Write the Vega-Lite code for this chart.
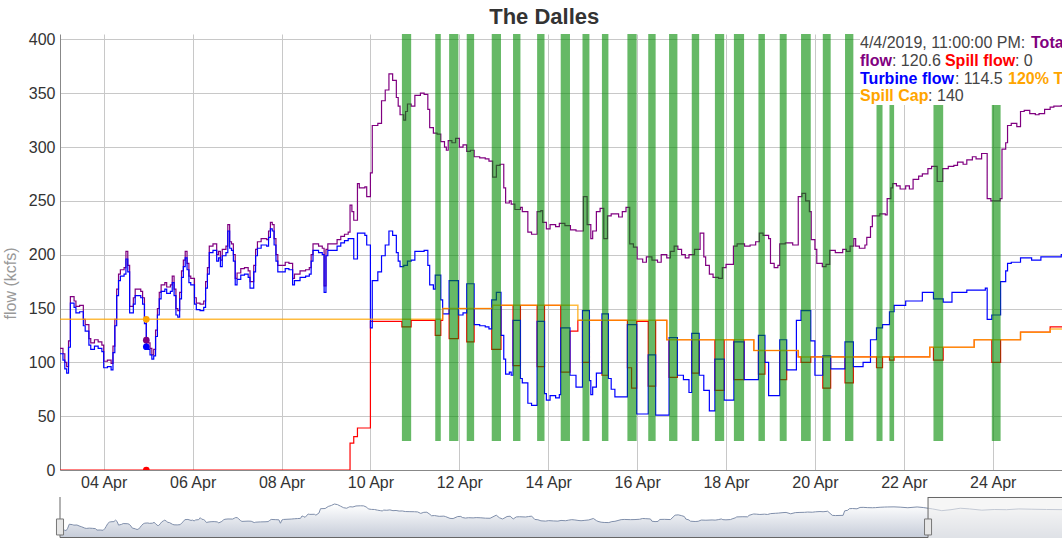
{
"$schema": "https://vega.github.io/schema/vega-lite/v6.json",
"background": "white",
"padding": {"left": 2, "top": 6, "right": 0, "bottom": 0},
"title": {"text": "The Dalles", "fontSize": 22, "fontWeight": "bold", "color": "#333", "anchor": "middle", "offset": 2, "dx": 12, "font": "Liberation Sans"},
"spacing": 6,
"config": {
  "font": "Liberation Sans",
  "view": {"stroke": null},
  "axis": {"labelFont": "Liberation Sans", "labelFontSize": 16, "labelColor": "#333", "gridColor": "#c8c8c8", "domainColor": "#888", "ticks": false}
},
"resolve": {"scale": {"x": "independent", "y": "independent"}},
"datasets": {
"tot": [
{"t":"2019-04-03T00:00","v":113},{"t":"2019-04-03T02:00","v":108},{"t":"2019-04-03T03:00","v":100},{"t":"2019-04-03T04:00","v":96},{"t":"2019-04-03T05:00","v":120},{"t":"2019-04-03T06:00","v":161},{"t":"2019-04-03T08:00","v":157},{"t":"2019-04-03T09:00","v":152},{"t":"2019-04-03T11:00","v":153},{"t":"2019-04-03T13:00","v":140},{"t":"2019-04-03T14:00","v":135},{"t":"2019-04-03T16:00","v":122},{"t":"2019-04-03T17:00","v":118},{"t":"2019-04-03T19:00","v":121},{"t":"2019-04-03T21:00","v":119},{"t":"2019-04-03T23:00","v":116},
{"t":"2019-04-04T00:00","v":101},{"t":"2019-04-04T02:00","v":102},{"t":"2019-04-04T04:00","v":99},{"t":"2019-04-04T05:00","v":115},{"t":"2019-04-04T06:00","v":140},{"t":"2019-04-04T07:00","v":168},{"t":"2019-04-04T08:00","v":182},{"t":"2019-04-04T09:00","v":186},{"t":"2019-04-04T11:00","v":188},{"t":"2019-04-04T12:00","v":203},{"t":"2019-04-04T13:00","v":190},{"t":"2019-04-04T14:00","v":152},{"t":"2019-04-04T16:00","v":160},{"t":"2019-04-04T17:00","v":168},{"t":"2019-04-04T20:00","v":166},{"t":"2019-04-04T21:00","v":160},{"t":"2019-04-04T22:00","v":142},{"t":"2019-04-04T23:00","v":120.6},
{"t":"2019-04-05T00:00","v":118},{"t":"2019-04-05T01:00","v":113},{"t":"2019-04-05T02:00","v":107},{"t":"2019-04-05T03:00","v":112},{"t":"2019-04-05T04:00","v":130},{"t":"2019-04-05T05:00","v":150},{"t":"2019-04-05T06:00","v":165},{"t":"2019-04-05T07:00","v":172},{"t":"2019-04-05T09:00","v":174},{"t":"2019-04-05T10:00","v":170},{"t":"2019-04-05T12:00","v":172},{"t":"2019-04-05T13:00","v":180},{"t":"2019-04-05T14:00","v":168},{"t":"2019-04-05T15:00","v":150},{"t":"2019-04-05T16:00","v":148},{"t":"2019-04-05T17:00","v":165},{"t":"2019-04-05T18:00","v":185},{"t":"2019-04-05T19:00","v":195},{"t":"2019-04-05T20:00","v":203},{"t":"2019-04-05T21:00","v":192},{"t":"2019-04-05T22:00","v":180},{"t":"2019-04-05T23:00","v":178},
{"t":"2019-04-06T01:00","v":160},{"t":"2019-04-06T02:00","v":155},{"t":"2019-04-06T04:00","v":154},{"t":"2019-04-06T06:00","v":157},{"t":"2019-04-06T07:00","v":175},{"t":"2019-04-06T08:00","v":188},{"t":"2019-04-06T09:00","v":208},{"t":"2019-04-06T11:00","v":210},{"t":"2019-04-06T13:00","v":200},{"t":"2019-04-06T14:00","v":203},{"t":"2019-04-06T15:00","v":195},{"t":"2019-04-06T16:00","v":205},{"t":"2019-04-06T18:00","v":208},{"t":"2019-04-06T19:00","v":228},{"t":"2019-04-06T20:00","v":212},{"t":"2019-04-06T21:00","v":210},{"t":"2019-04-06T22:00","v":200},{"t":"2019-04-06T23:00","v":178},
{"t":"2019-04-07T00:00","v":183},{"t":"2019-04-07T02:00","v":187},{"t":"2019-04-07T04:00","v":188},{"t":"2019-04-07T06:00","v":185},{"t":"2019-04-07T07:00","v":175},{"t":"2019-04-07T09:00","v":190},{"t":"2019-04-07T10:00","v":205},{"t":"2019-04-07T11:00","v":212},{"t":"2019-04-07T13:00","v":215},{"t":"2019-04-07T16:00","v":214},{"t":"2019-04-07T17:00","v":222},{"t":"2019-04-07T18:00","v":230},{"t":"2019-04-07T19:00","v":228},{"t":"2019-04-07T20:00","v":215},{"t":"2019-04-07T21:00","v":200},{"t":"2019-04-07T22:00","v":190},
{"t":"2019-04-08T02:00","v":193},{"t":"2019-04-08T04:00","v":192},{"t":"2019-04-08T06:00","v":178},{"t":"2019-04-08T07:00","v":182},{"t":"2019-04-08T10:00","v":185},{"t":"2019-04-08T13:00","v":186},{"t":"2019-04-08T15:00","v":188},{"t":"2019-04-08T16:00","v":200},{"t":"2019-04-08T17:00","v":210},{"t":"2019-04-08T20:00","v":208},{"t":"2019-04-08T22:00","v":206},{"t":"2019-04-08T23:00","v":171},
{"t":"2019-04-09T00:00","v":205},{"t":"2019-04-09T01:00","v":210},{"t":"2019-04-09T06:00","v":214},{"t":"2019-04-09T08:00","v":217},{"t":"2019-04-09T10:00","v":219},{"t":"2019-04-09T12:00","v":221},{"t":"2019-04-09T13:00","v":246},{"t":"2019-04-09T14:00","v":240},{"t":"2019-04-09T15:00","v":232},{"t":"2019-04-09T17:00","v":266},{"t":"2019-04-09T18:00","v":262},{"t":"2019-04-09T21:00","v":263},{"t":"2019-04-09T22:00","v":254},
{"t":"2019-04-10T00:00","v":276},{"t":"2019-04-10T01:00","v":320},{"t":"2019-04-10T04:00","v":322},{"t":"2019-04-10T06:00","v":343},{"t":"2019-04-10T08:00","v":353},{"t":"2019-04-10T10:00","v":368},{"t":"2019-04-10T12:00","v":362},{"t":"2019-04-10T14:00","v":346},{"t":"2019-04-10T15:00","v":338},{"t":"2019-04-10T16:00","v":330},{"t":"2019-04-10T18:00","v":325},{"t":"2019-04-10T19:00","v":333},{"t":"2019-04-10T20:00","v":340},{"t":"2019-04-10T22:00","v":338},
{"t":"2019-04-11T00:00","v":348},{"t":"2019-04-11T03:00","v":350},{"t":"2019-04-11T05:00","v":349},{"t":"2019-04-11T07:00","v":335},{"t":"2019-04-11T08:00","v":318},{"t":"2019-04-11T10:00","v":313},{"t":"2019-04-11T12:00","v":312},{"t":"2019-04-11T14:00","v":305},{"t":"2019-04-11T16:00","v":300},{"t":"2019-04-11T17:00","v":297},{"t":"2019-04-11T18:00","v":306},{"t":"2019-04-11T20:00","v":304},{"t":"2019-04-11T22:00","v":308},
{"t":"2019-04-12T00:00","v":300},{"t":"2019-04-12T02:00","v":302},{"t":"2019-04-12T04:00","v":296},{"t":"2019-04-12T06:00","v":297},{"t":"2019-04-12T08:00","v":291},{"t":"2019-04-12T11:00","v":290},{"t":"2019-04-12T14:00","v":289},{"t":"2019-04-12T16:00","v":287},{"t":"2019-04-12T18:00","v":272},{"t":"2019-04-12T20:00","v":283},{"t":"2019-04-12T22:00","v":284},
{"t":"2019-04-13T00:00","v":262},{"t":"2019-04-13T01:00","v":248},{"t":"2019-04-13T03:00","v":250},{"t":"2019-04-13T04:00","v":247},{"t":"2019-04-13T06:00","v":242},{"t":"2019-04-13T09:00","v":244},{"t":"2019-04-13T10:00","v":240},{"t":"2019-04-13T13:00","v":221},{"t":"2019-04-13T15:00","v":219},{"t":"2019-04-13T18:00","v":240},{"t":"2019-04-13T20:00","v":241},{"t":"2019-04-13T21:00","v":230},{"t":"2019-04-13T23:00","v":224},
{"t":"2019-04-14T01:00","v":228},{"t":"2019-04-14T04:00","v":226},{"t":"2019-04-14T06:00","v":229},{"t":"2019-04-14T09:00","v":227},{"t":"2019-04-14T12:00","v":223},{"t":"2019-04-14T15:00","v":222},{"t":"2019-04-14T19:00","v":254},{"t":"2019-04-14T21:00","v":228},{"t":"2019-04-14T23:00","v":215},
{"t":"2019-04-15T00:00","v":222},{"t":"2019-04-15T02:00","v":240},{"t":"2019-04-15T04:00","v":243},{"t":"2019-04-15T06:00","v":215},{"t":"2019-04-15T08:00","v":236},{"t":"2019-04-15T10:00","v":238},{"t":"2019-04-15T14:00","v":235},{"t":"2019-04-15T16:00","v":240},{"t":"2019-04-15T18:00","v":244},{"t":"2019-04-15T20:00","v":210},{"t":"2019-04-15T22:00","v":207},
{"t":"2019-04-16T00:00","v":196},{"t":"2019-04-16T03:00","v":193},{"t":"2019-04-16T05:00","v":198},{"t":"2019-04-16T08:00","v":195},{"t":"2019-04-16T11:00","v":193},{"t":"2019-04-16T13:00","v":200},{"t":"2019-04-16T16:00","v":197},{"t":"2019-04-16T18:00","v":203},{"t":"2019-04-16T20:00","v":208},{"t":"2019-04-16T22:00","v":205},
{"t":"2019-04-17T00:00","v":200},{"t":"2019-04-17T02:00","v":197},{"t":"2019-04-17T04:00","v":200},{"t":"2019-04-17T07:00","v":205},{"t":"2019-04-17T10:00","v":220},{"t":"2019-04-17T12:00","v":198},{"t":"2019-04-17T13:00","v":190},{"t":"2019-04-17T15:00","v":182},{"t":"2019-04-17T17:00","v":179},{"t":"2019-04-17T20:00","v":178},{"t":"2019-04-17T22:00","v":188},
{"t":"2019-04-18T00:00","v":191},{"t":"2019-04-18T04:00","v":208},{"t":"2019-04-18T06:00","v":210},{"t":"2019-04-18T10:00","v":208},{"t":"2019-04-18T13:00","v":209},{"t":"2019-04-18T16:00","v":212},{"t":"2019-04-18T18:00","v":220},{"t":"2019-04-18T20:00","v":218},{"t":"2019-04-18T23:00","v":215},
{"t":"2019-04-19T00:00","v":192},{"t":"2019-04-19T02:00","v":188},{"t":"2019-04-19T04:00","v":190},{"t":"2019-04-19T05:00","v":210},{"t":"2019-04-19T08:00","v":211},{"t":"2019-04-19T12:00","v":209},{"t":"2019-04-19T15:00","v":254},{"t":"2019-04-19T17:00","v":257},{"t":"2019-04-19T19:00","v":250},{"t":"2019-04-19T21:00","v":240},{"t":"2019-04-19T22:00","v":214},
{"t":"2019-04-20T00:00","v":205},{"t":"2019-04-20T01:00","v":192},{"t":"2019-04-20T04:00","v":189},{"t":"2019-04-20T06:00","v":191},{"t":"2019-04-20T08:00","v":204},{"t":"2019-04-20T11:00","v":202},{"t":"2019-04-20T15:00","v":205},{"t":"2019-04-20T17:00","v":203},{"t":"2019-04-20T19:00","v":208},{"t":"2019-04-20T21:00","v":215},{"t":"2019-04-20T22:00","v":208},
{"t":"2019-04-21T00:00","v":206},{"t":"2019-04-21T03:00","v":209},{"t":"2019-04-21T04:00","v":216},{"t":"2019-04-21T06:00","v":226},{"t":"2019-04-21T07:00","v":236},{"t":"2019-04-21T11:00","v":238},{"t":"2019-04-21T14:00","v":237},{"t":"2019-04-21T15:00","v":252},{"t":"2019-04-21T17:00","v":262},{"t":"2019-04-21T18:00","v":266},{"t":"2019-04-21T20:00","v":264},{"t":"2019-04-21T22:00","v":261},
{"t":"2019-04-22T01:00","v":264},{"t":"2019-04-22T03:00","v":261},{"t":"2019-04-22T05:00","v":270},{"t":"2019-04-22T08:00","v":273},{"t":"2019-04-22T10:00","v":275},{"t":"2019-04-22T13:00","v":280},{"t":"2019-04-22T15:00","v":282},{"t":"2019-04-22T18:00","v":268},{"t":"2019-04-22T21:00","v":280},
{"t":"2019-04-23T00:00","v":282},{"t":"2019-04-23T03:00","v":283},{"t":"2019-04-23T05:00","v":286},{"t":"2019-04-23T08:00","v":284},{"t":"2019-04-23T10:00","v":288},{"t":"2019-04-23T13:00","v":291},{"t":"2019-04-23T15:00","v":289},{"t":"2019-04-23T18:00","v":294},{"t":"2019-04-23T21:00","v":252},{"t":"2019-04-23T23:00","v":250},
{"t":"2019-04-24T04:00","v":252},{"t":"2019-04-24T05:00","v":298},{"t":"2019-04-24T07:00","v":304},{"t":"2019-04-24T08:00","v":320},{"t":"2019-04-24T10:00","v":322},{"t":"2019-04-24T13:00","v":319},{"t":"2019-04-24T15:00","v":333},{"t":"2019-04-24T17:00","v":334},{"t":"2019-04-24T20:00","v":331},{"t":"2019-04-24T23:00","v":330},
{"t":"2019-04-25T01:00","v":331},{"t":"2019-04-25T04:00","v":335},{"t":"2019-04-25T07:00","v":337},{"t":"2019-04-25T09:00","v":338},{"t":"2019-04-25T13:00","v":339},{"t":"2019-04-25T17:00","v":336},{"t":"2019-04-25T22:00","v":330},
{"t":"2019-04-26T04:00","v":338},{"t":"2019-04-26T08:00","v":332},{"t":"2019-04-26T14:00","v":318},{"t":"2019-04-26T20:00","v":300},{"t":"2019-04-27T02:00","v":310},{"t":"2019-04-27T08:00","v":325},{"t":"2019-04-27T14:00","v":318},{"t":"2019-04-27T22:00","v":305},{"t":"2019-04-28T06:00","v":312},{"t":"2019-04-28T14:00","v":310},{"t":"2019-04-28T22:00","v":318},{"t":"2019-04-29T06:00","v":315},{"t":"2019-04-29T16:00","v":312},{"t":"2019-04-30T04:00","v":310}
],
"tur": [
{"t":"2019-04-03T00:00","v":108},{"t":"2019-04-03T02:00","v":102},{"t":"2019-04-03T03:00","v":94},{"t":"2019-04-03T04:00","v":90},{"t":"2019-04-03T05:00","v":114},{"t":"2019-04-03T06:00","v":155},{"t":"2019-04-03T08:00","v":151},{"t":"2019-04-03T09:00","v":146},{"t":"2019-04-03T11:00","v":147},{"t":"2019-04-03T13:00","v":134},{"t":"2019-04-03T14:00","v":129},{"t":"2019-04-03T16:00","v":116},{"t":"2019-04-03T17:00","v":112},{"t":"2019-04-03T19:00","v":115},{"t":"2019-04-03T21:00","v":113},{"t":"2019-04-03T23:00","v":110},
{"t":"2019-04-04T00:00","v":95},{"t":"2019-04-04T02:00","v":96},{"t":"2019-04-04T04:00","v":93},{"t":"2019-04-04T05:00","v":109},{"t":"2019-04-04T06:00","v":134},{"t":"2019-04-04T07:00","v":162},{"t":"2019-04-04T08:00","v":176},{"t":"2019-04-04T09:00","v":180},{"t":"2019-04-04T11:00","v":182},{"t":"2019-04-04T12:00","v":196},{"t":"2019-04-04T13:00","v":184},{"t":"2019-04-04T14:00","v":146},{"t":"2019-04-04T16:00","v":154},{"t":"2019-04-04T17:00","v":162},{"t":"2019-04-04T20:00","v":160},{"t":"2019-04-04T21:00","v":154},{"t":"2019-04-04T22:00","v":136},{"t":"2019-04-04T23:00","v":114.5},
{"t":"2019-04-05T00:00","v":112},{"t":"2019-04-05T01:00","v":107},{"t":"2019-04-05T02:00","v":103},{"t":"2019-04-05T03:00","v":106},{"t":"2019-04-05T04:00","v":124},{"t":"2019-04-05T05:00","v":144},{"t":"2019-04-05T06:00","v":159},{"t":"2019-04-05T07:00","v":166},{"t":"2019-04-05T09:00","v":168},{"t":"2019-04-05T10:00","v":164},{"t":"2019-04-05T12:00","v":166},{"t":"2019-04-05T13:00","v":174},{"t":"2019-04-05T14:00","v":162},{"t":"2019-04-05T15:00","v":144},{"t":"2019-04-05T16:00","v":142},{"t":"2019-04-05T17:00","v":159},{"t":"2019-04-05T18:00","v":179},{"t":"2019-04-05T19:00","v":189},{"t":"2019-04-05T20:00","v":197},{"t":"2019-04-05T21:00","v":186},{"t":"2019-04-05T22:00","v":174},{"t":"2019-04-05T23:00","v":172},
{"t":"2019-04-06T01:00","v":154},{"t":"2019-04-06T02:00","v":149},{"t":"2019-04-06T04:00","v":148},{"t":"2019-04-06T06:00","v":151},{"t":"2019-04-06T07:00","v":169},{"t":"2019-04-06T08:00","v":182},{"t":"2019-04-06T09:00","v":202},{"t":"2019-04-06T11:00","v":204},{"t":"2019-04-06T13:00","v":194},{"t":"2019-04-06T14:00","v":197},{"t":"2019-04-06T15:00","v":189},{"t":"2019-04-06T16:00","v":199},{"t":"2019-04-06T18:00","v":202},{"t":"2019-04-06T19:00","v":222},{"t":"2019-04-06T20:00","v":206},{"t":"2019-04-06T21:00","v":204},{"t":"2019-04-06T22:00","v":194},{"t":"2019-04-06T23:00","v":172},
{"t":"2019-04-07T00:00","v":177},{"t":"2019-04-07T02:00","v":181},{"t":"2019-04-07T04:00","v":182},{"t":"2019-04-07T06:00","v":179},{"t":"2019-04-07T07:00","v":169},{"t":"2019-04-07T09:00","v":184},{"t":"2019-04-07T10:00","v":199},{"t":"2019-04-07T11:00","v":206},{"t":"2019-04-07T13:00","v":209},{"t":"2019-04-07T16:00","v":208},{"t":"2019-04-07T17:00","v":216},{"t":"2019-04-07T18:00","v":224},{"t":"2019-04-07T19:00","v":222},{"t":"2019-04-07T20:00","v":209},{"t":"2019-04-07T21:00","v":194},{"t":"2019-04-07T22:00","v":184},
{"t":"2019-04-08T02:00","v":187},{"t":"2019-04-08T04:00","v":186},{"t":"2019-04-08T06:00","v":172},{"t":"2019-04-08T07:00","v":176},{"t":"2019-04-08T10:00","v":179},{"t":"2019-04-08T13:00","v":180},{"t":"2019-04-08T15:00","v":182},{"t":"2019-04-08T16:00","v":194},{"t":"2019-04-08T17:00","v":204},{"t":"2019-04-08T20:00","v":202},{"t":"2019-04-08T22:00","v":200},{"t":"2019-04-08T23:00","v":165},
{"t":"2019-04-09T00:00","v":199},{"t":"2019-04-09T01:00","v":204},{"t":"2019-04-09T06:00","v":208},{"t":"2019-04-09T08:00","v":211},{"t":"2019-04-09T10:00","v":213},{"t":"2019-04-09T12:00","v":215},{"t":"2019-04-09T15:00","v":196},{"t":"2019-04-09T17:00","v":220},{"t":"2019-04-09T21:00","v":218},{"t":"2019-04-09T22:00","v":209},
{"t":"2019-04-10T00:00","v":132},{"t":"2019-04-10T01:00","v":176},{"t":"2019-04-10T04:00","v":184},{"t":"2019-04-10T06:00","v":199},{"t":"2019-04-10T08:00","v":209},{"t":"2019-04-10T10:00","v":222},{"t":"2019-04-10T12:00","v":218},{"t":"2019-04-10T14:00","v":202},{"t":"2019-04-10T15:00","v":194},{"t":"2019-04-10T16:00","v":189},{"t":"2019-04-10T18:00","v":190},{"t":"2019-04-10T20:00","v":194},{"t":"2019-04-10T22:00","v":195},
{"t":"2019-04-11T00:00","v":203},{"t":"2019-04-11T05:00","v":204},{"t":"2019-04-11T07:00","v":190},{"t":"2019-04-11T08:00","v":172},{"t":"2019-04-11T10:00","v":168},{"t":"2019-04-11T11:00","v":181},{"t":"2019-04-11T14:00","v":158},{"t":"2019-04-11T15:00","v":145},{"t":"2019-04-11T18:30","v":176},{"t":"2019-04-11T23:30","v":144},
{"t":"2019-04-12T02:00","v":146},{"t":"2019-04-12T04:00","v":173},{"t":"2019-04-12T08:00","v":135},{"t":"2019-04-12T11:00","v":134},{"t":"2019-04-12T14:00","v":133},{"t":"2019-04-12T16:00","v":131},{"t":"2019-04-12T17:30","v":158},{"t":"2019-04-12T20:00","v":165},{"t":"2019-04-12T22:30","v":125},
{"t":"2019-04-13T00:00","v":103},{"t":"2019-04-13T01:00","v":89},{"t":"2019-04-13T03:00","v":91},{"t":"2019-04-13T04:00","v":88},{"t":"2019-04-13T05:00","v":139},{"t":"2019-04-13T09:00","v":85},{"t":"2019-04-13T10:00","v":81},{"t":"2019-04-13T13:00","v":62},{"t":"2019-04-13T15:00","v":60},{"t":"2019-04-13T18:00","v":138},{"t":"2019-04-13T22:00","v":71},{"t":"2019-04-13T23:00","v":65},
{"t":"2019-04-14T01:00","v":69},{"t":"2019-04-14T04:00","v":67},{"t":"2019-04-14T06:00","v":70},{"t":"2019-04-14T06:45","v":132},{"t":"2019-04-14T11:45","v":88},{"t":"2019-04-14T15:00","v":77},{"t":"2019-04-14T18:30","v":148},{"t":"2019-04-14T22:15","v":83},{"t":"2019-04-14T23:00","v":70},
{"t":"2019-04-15T00:00","v":77},{"t":"2019-04-15T02:00","v":90},{"t":"2019-04-15T05:00","v":145},{"t":"2019-04-15T08:30","v":85},{"t":"2019-04-15T10:00","v":75},{"t":"2019-04-15T12:00","v":68},{"t":"2019-04-15T18:45","v":135},{"t":"2019-04-15T23:45","v":52},
{"t":"2019-04-16T06:00","v":107},{"t":"2019-04-16T10:00","v":51},{"t":"2019-04-16T17:15","v":123},{"t":"2019-04-16T21:45","v":88},
{"t":"2019-04-17T01:00","v":84},{"t":"2019-04-17T04:00","v":72},{"t":"2019-04-17T05:30","v":127},{"t":"2019-04-17T09:30","v":88},{"t":"2019-04-17T12:00","v":74},{"t":"2019-04-17T15:00","v":55},{"t":"2019-04-17T18:00","v":103},{"t":"2019-04-17T23:00","v":65},
{"t":"2019-04-18T04:15","v":119},{"t":"2019-04-18T09:45","v":84},{"t":"2019-04-18T17:30","v":125},{"t":"2019-04-18T21:00","v":100},{"t":"2019-04-18T23:00","v":69},
{"t":"2019-04-19T05:00","v":121},{"t":"2019-04-19T08:45","v":93},{"t":"2019-04-19T14:00","v":139},{"t":"2019-04-19T16:30","v":148},{"t":"2019-04-19T21:45","v":120},
{"t":"2019-04-20T00:00","v":88},{"t":"2019-04-20T04:15","v":106},{"t":"2019-04-20T08:30","v":94},{"t":"2019-04-20T16:15","v":119},{"t":"2019-04-20T20:45","v":96},
{"t":"2019-04-21T02:00","v":100},{"t":"2019-04-21T06:00","v":121},{"t":"2019-04-21T09:15","v":132},{"t":"2019-04-21T12:30","v":135},{"t":"2019-04-21T16:15","v":147},{"t":"2019-04-21T18:45","v":153},
{"t":"2019-04-22T01:00","v":157},{"t":"2019-04-22T10:00","v":165},{"t":"2019-04-22T16:00","v":159},{"t":"2019-04-22T21:15","v":156},
{"t":"2019-04-23T02:00","v":165},{"t":"2019-04-23T10:00","v":167},{"t":"2019-04-23T20:00","v":169},{"t":"2019-04-23T21:00","v":140},{"t":"2019-04-23T23:30","v":144},
{"t":"2019-04-24T04:15","v":175},{"t":"2019-04-24T07:00","v":185},{"t":"2019-04-24T08:00","v":192},{"t":"2019-04-24T10:00","v":193},{"t":"2019-04-24T15:00","v":197},{"t":"2019-04-24T21:00","v":195},{"t":"2019-04-25T02:00","v":198},{"t":"2019-04-25T13:00","v":200},{"t":"2019-04-25T20:00","v":200}
],
"sp": [
{"t":"2019-04-03T00:00","v":0},{"t":"2019-04-09T13:00","v":25},{"t":"2019-04-09T15:00","v":31},{"t":"2019-04-09T17:00","v":39},{"t":"2019-04-10T00:00","v":138},
{"t":"2019-04-10T17:00","v":133},{"t":"2019-04-10T22:00","v":139},{"t":"2019-04-11T11:00","v":125},{"t":"2019-04-11T14:00","v":139},{"t":"2019-04-11T15:00","v":150},{"t":"2019-04-11T18:30","v":122},{"t":"2019-04-11T23:30","v":150},
{"t":"2019-04-12T04:00","v":119},{"t":"2019-04-12T08:00","v":150},{"t":"2019-04-12T17:30","v":112},{"t":"2019-04-12T22:30","v":153},
{"t":"2019-04-13T05:00","v":97},{"t":"2019-04-13T09:00","v":153},{"t":"2019-04-13T18:00","v":96},{"t":"2019-04-13T22:00","v":153},
{"t":"2019-04-14T06:45","v":91},{"t":"2019-04-14T11:45","v":129},{"t":"2019-04-14T16:00","v":139},{"t":"2019-04-14T18:30","v":100},{"t":"2019-04-14T22:15","v":139},
{"t":"2019-04-15T05:00","v":88},{"t":"2019-04-15T08:30","v":139},{"t":"2019-04-15T18:45","v":95},{"t":"2019-04-15T21:00","v":76},{"t":"2019-04-15T23:45","v":138},
{"t":"2019-04-16T06:00","v":78},{"t":"2019-04-16T10:00","v":139},{"t":"2019-04-16T16:00","v":121},{"t":"2019-04-16T17:15","v":86},{"t":"2019-04-16T21:45","v":121},
{"t":"2019-04-17T05:30","v":90},{"t":"2019-04-17T09:30","v":121},{"t":"2019-04-17T18:00","v":74},{"t":"2019-04-17T23:00","v":121},
{"t":"2019-04-18T04:15","v":84},{"t":"2019-04-18T09:45","v":121},{"t":"2019-04-18T15:00","v":111},{"t":"2019-04-18T17:30","v":89},{"t":"2019-04-18T21:00","v":111},
{"t":"2019-04-19T05:00","v":84},{"t":"2019-04-19T08:45","v":111},{"t":"2019-04-19T15:00","v":105},{"t":"2019-04-19T16:30","v":100},{"t":"2019-04-19T21:45","v":105},
{"t":"2019-04-20T04:15","v":76},{"t":"2019-04-20T08:30","v":105},{"t":"2019-04-20T16:15","v":81},{"t":"2019-04-20T20:45","v":105},
{"t":"2019-04-21T09:15","v":95},{"t":"2019-04-21T12:30","v":105},{"t":"2019-04-21T16:15","v":102},{"t":"2019-04-21T18:45","v":105},
{"t":"2019-04-22T14:00","v":114},{"t":"2019-04-22T16:00","v":102},{"t":"2019-04-22T21:15","v":114},{"t":"2019-04-23T14:00","v":121},{"t":"2019-04-23T23:30","v":100},{"t":"2019-04-24T04:15","v":121},{"t":"2019-04-24T15:00","v":128},{"t":"2019-04-25T07:00","v":133},{"t":"2019-04-25T20:00","v":133}
],
"cap": [
{"t":"2019-04-03T00:00","v":140},{"t":"2019-04-11T15:00","v":150},{"t":"2019-04-12T18:00","v":153},{"t":"2019-04-14T16:00","v":139},{"t":"2019-04-16T16:00","v":121},{"t":"2019-04-18T15:00","v":111},{"t":"2019-04-19T15:00","v":105},{"t":"2019-04-22T14:00","v":114},{"t":"2019-04-23T14:00","v":121},{"t":"2019-04-24T15:00","v":128},{"t":"2019-04-25T07:00","v":131},{"t":"2019-04-25T20:00","v":131}
],
"bars": [
{"s":"2019-04-10T17:00","e":"2019-04-10T22:00"},{"s":"2019-04-11T11:00","e":"2019-04-11T14:00"},{"s":"2019-04-11T18:30","e":"2019-04-11T23:30"},{"s":"2019-04-12T04:00","e":"2019-04-12T08:00"},{"s":"2019-04-12T17:30","e":"2019-04-12T22:30"},{"s":"2019-04-13T05:00","e":"2019-04-13T09:00"},{"s":"2019-04-13T18:00","e":"2019-04-13T22:00"},{"s":"2019-04-14T06:45","e":"2019-04-14T11:45"},{"s":"2019-04-14T18:30","e":"2019-04-14T22:15"},{"s":"2019-04-15T05:00","e":"2019-04-15T08:30"},{"s":"2019-04-15T18:45","e":"2019-04-15T23:45"},{"s":"2019-04-16T06:00","e":"2019-04-16T10:00"},{"s":"2019-04-16T17:15","e":"2019-04-16T21:45"},{"s":"2019-04-17T05:30","e":"2019-04-17T09:30"},{"s":"2019-04-17T18:00","e":"2019-04-17T23:00"},{"s":"2019-04-18T04:15","e":"2019-04-18T09:45"},{"s":"2019-04-18T17:30","e":"2019-04-18T21:00"},{"s":"2019-04-19T05:00","e":"2019-04-19T08:45"},{"s":"2019-04-19T16:30","e":"2019-04-19T21:45"},{"s":"2019-04-20T04:15","e":"2019-04-20T08:30"},{"s":"2019-04-20T16:15","e":"2019-04-20T20:45"},{"s":"2019-04-21T09:15","e":"2019-04-21T12:30"},{"s":"2019-04-21T16:15","e":"2019-04-21T18:45"},{"s":"2019-04-22T16:00","e":"2019-04-22T21:15"},{"s":"2019-04-23T23:30","e":"2019-04-24T04:15"}
],
"hl": [
{"t":"2019-04-04T23:00","s":"Total flow","v":120.6},{"t":"2019-04-04T23:00","s":"Spill flow","v":0},{"t":"2019-04-04T23:00","s":"Turbine flow","v":114.5},{"t":"2019-04-04T23:00","s":"Spill Cap","v":140}
]
},
"vconcat": [
{
"width": 1002,
"height": 436,
"layer": [
{"data": {"name": "tot"}, "mark": {"type": "line", "interpolate": "step-after", "color": "#800080", "strokeWidth": 1.2, "clip": true},
 "encoding": {
  "x": {"field": "t", "type": "temporal", "scale": {"domain": [{"year": 2019, "month": 4, "date": 3, "hours": 0, "minutes": 24}, {"year": 2019, "month": 4, "date": 25, "hours": 13, "minutes": 24}]},
        "axis": {"title": null, "format": "%d %b", "labelPadding": 4, "grid": true, "labelFlush": false,
                 "values": [{"year":2019,"month":4,"date":4},{"year":2019,"month":4,"date":6},{"year":2019,"month":4,"date":8},{"year":2019,"month":4,"date":10},{"year":2019,"month":4,"date":12},{"year":2019,"month":4,"date":14},{"year":2019,"month":4,"date":16},{"year":2019,"month":4,"date":18},{"year":2019,"month":4,"date":20},{"year":2019,"month":4,"date":22},{"year":2019,"month":4,"date":24}]}},
  "y": {"field": "v", "type": "quantitative", "scale": {"domain": [0, 405], "nice": false},
        "axis": {"title": "flow (kcfs)", "values": [0,50,100,150,200,250,300,350,400], "grid": true, "labelPadding": 5,
                 "titleColor": "#999", "titleFontSize": 16, "titleFontWeight": "normal", "titleX": -50, "titleY": 249, "titleAngle": -90, "titleAlign": "center", "titleBaseline": "middle"}}
 }},
{"data": {"name": "sp"}, "mark": {"type": "line", "interpolate": "step-after", "color": "#ff0000", "strokeWidth": 1.2, "clip": true},
 "encoding": {"x": {"field": "t", "type": "temporal"}, "y": {"field": "v", "type": "quantitative"}}},
{"data": {"name": "tur"}, "mark": {"type": "line", "interpolate": "step-after", "color": "#0000ff", "strokeWidth": 1.2, "clip": true},
 "encoding": {"x": {"field": "t", "type": "temporal"}, "y": {"field": "v", "type": "quantitative"}}},
{"data": {"name": "cap"}, "mark": {"type": "line", "interpolate": "step-after", "color": "#ffa500", "strokeWidth": 1.5, "opacity": 0.75, "clip": true},
 "encoding": {"x": {"field": "t", "type": "temporal"}, "y": {"field": "v", "type": "quantitative"}}},
{"data": {"name": "bars"}, "mark": {"type": "rect", "color": "#008a00", "opacity": 0.6, "clip": true},
 "encoding": {"x": {"field": "s", "type": "temporal"}, "x2": {"field": "e"}, "y": {"datum": 27}, "y2": {"datum": 405}}},
{"data": {"name": "hl"}, "mark": {"type": "point", "filled": true, "size": 45, "opacity": 1, "clip": true},
 "encoding": {"x": {"field": "t", "type": "temporal"}, "y": {"field": "v", "type": "quantitative"},
  "color": {"field": "s", "type": "nominal", "legend": null, "scale": {"domain": ["Total flow", "Spill flow", "Turbine flow", "Spill Cap"], "range": ["#800080", "#ff0000", "#0000ff", "#ffa500"]}}}},
{"data": {"values": [{}]}, "mark": {"type": "rect", "color": "#ffffff", "opacity": 1, "clip": true},
 "encoding": {"x": {"datum": {"year": 2019, "month": 4, "date": 21, "hours": 0, "minutes": 21}}, "x2": {"datum": {"year": 2019, "month": 4, "date": 26, "hours": 0}}, "y": {"datum": 339}, "y2": {"datum": 405}}},
{"data": {"values": [{}]}, "mark": {"type": "text", "align": "left", "baseline": "middle", "fontSize": 16, "color": "#444", "clip": true},
 "encoding": {"x": {"datum": {"year": 2019, "month": 4, "date": 21, "hours": 0, "minutes": 21}}, "y": {"datum": 396.6}, "text": {"value": "4/4/2019, 11:00:00 PM:"}}},
{"data": {"values": [{}]}, "mark": {"type": "text", "align": "left", "baseline": "middle", "fontSize": 16, "fontWeight": "bold", "color": "#800080", "clip": true},
 "encoding": {"x": {"datum": {"year": 2019, "month": 4, "date": 24, "hours": 20, "minutes": 41}}, "y": {"datum": 396.6}, "text": {"value": "Total"}}},
{"data": {"values": [{}]}, "mark": {"type": "text", "align": "left", "baseline": "middle", "fontSize": 16, "fontWeight": "bold", "color": "#800080", "clip": true},
 "encoding": {"x": {"datum": {"year": 2019, "month": 4, "date": 21, "hours": 0, "minutes": 21}}, "y": {"datum": 379.9}, "text": {"value": "flow"}}},
{"data": {"values": [{}]}, "mark": {"type": "text", "align": "left", "baseline": "middle", "fontSize": 16, "color": "#444", "clip": true},
 "encoding": {"x": {"datum": {"year": 2019, "month": 4, "date": 21, "hours": 17, "minutes": 36}}, "y": {"datum": 379.9}, "text": {"value": ": 120.6"}}},
{"data": {"values": [{}]}, "mark": {"type": "text", "align": "left", "baseline": "middle", "fontSize": 16, "fontWeight": "bold", "color": "#ff0000", "clip": true},
 "encoding": {"x": {"datum": {"year": 2019, "month": 4, "date": 22, "hours": 22, "minutes": 12}}, "y": {"datum": 379.9}, "text": {"value": "Spill flow"}}},
{"data": {"values": [{}]}, "mark": {"type": "text", "align": "left", "baseline": "middle", "fontSize": 16, "color": "#444", "clip": true},
 "encoding": {"x": {"datum": {"year": 2019, "month": 4, "date": 24, "hours": 12, "minutes": 0}}, "y": {"datum": 379.9}, "text": {"value": ": 0"}}},
{"data": {"values": [{}]}, "mark": {"type": "text", "align": "left", "baseline": "middle", "fontSize": 16, "fontWeight": "bold", "color": "#0000ff", "clip": true},
 "encoding": {"x": {"datum": {"year": 2019, "month": 4, "date": 21, "hours": 0, "minutes": 21}}, "y": {"datum": 363.2}, "text": {"value": "Turbine flow"}}},
{"data": {"values": [{}]}, "mark": {"type": "text", "align": "left", "baseline": "middle", "fontSize": 16, "color": "#444", "clip": true},
 "encoding": {"x": {"datum": {"year": 2019, "month": 4, "date": 23, "hours": 3, "minutes": 36}}, "y": {"datum": 363.2}, "text": {"value": ": 114.5"}}},
{"data": {"values": [{}]}, "mark": {"type": "text", "align": "left", "baseline": "middle", "fontSize": 16, "fontWeight": "bold", "color": "#ffa500", "clip": true},
 "encoding": {"x": {"datum": {"year": 2019, "month": 4, "date": 24, "hours": 8, "minutes": 15}}, "y": {"datum": 363.2}, "text": {"value": "120% TDG"}}},
{"data": {"values": [{}]}, "mark": {"type": "text", "align": "left", "baseline": "middle", "fontSize": 16, "fontWeight": "bold", "color": "#ffa500", "clip": true},
 "encoding": {"x": {"datum": {"year": 2019, "month": 4, "date": 21, "hours": 0, "minutes": 21}}, "y": {"datum": 347.4}, "text": {"value": "Spill Cap"}}},
{"data": {"values": [{}]}, "mark": {"type": "text", "align": "left", "baseline": "middle", "fontSize": 16, "color": "#444", "clip": true},
 "encoding": {"x": {"datum": {"year": 2019, "month": 4, "date": 22, "hours": 13, "minutes": 6}}, "y": {"datum": 347.4}, "text": {"value": ": 140"}}}
]
},
{
"width": 1002,
"height": 41,
"layer": [
{"data": {"name": "tot"}, "mark": {"type": "area", "clip": true, "interpolate": "linear",
   "color": {"gradient": "linear", "x1": 0, "y1": 0, "x2": 0, "y2": 1, "stops": [{"offset": 0, "color": "#ffffff"}, {"offset": 1, "color": "#A7B1C4"}]},
   "line": {"color": "#808FAB", "strokeWidth": 1}},
 "encoding": {
  "x": {"field": "t", "type": "temporal", "axis": null, "scale": {"domain": [{"year": 2019, "month": 4, "date": 3, "hours": 0}, {"year": 2019, "month": 4, "date": 30, "hours": 2}]}},
  "y": {"field": "v", "type": "quantitative", "axis": null, "scale": {"domain": [20, 440], "nice": false, "zero": false}}
 }},
{"data": {"values": [{}]}, "mark": {"type": "rect", "color": "#f0f0f0", "opacity": 0.6, "clip": true},
 "encoding": {"x": {"datum": {"year": 2019, "month": 4, "date": 26, "hours": 11, "minutes": 6}}, "x2": {"datum": {"year": 2019, "month": 4, "date": 30, "hours": 2}}, "y": {"datum": 20}, "y2": {"datum": 440}}},
{"data": {"values": [{}]}, "mark": {"type": "rule", "color": "#666", "strokeWidth": 1},
 "encoding": {"x": {"datum": {"year": 2019, "month": 4, "date": 3, "hours": 0}}, "y": {"datum": 25}, "y2": {"datum": 440}}},
{"data": {"values": [{}]}, "mark": {"type": "rule", "color": "#666", "strokeWidth": 1},
 "encoding": {"x": {"datum": {"year": 2019, "month": 4, "date": 26, "hours": 11, "minutes": 6}}, "y": {"datum": 25}, "y2": {"datum": 440}}},
{"data": {"values": [{}]}, "mark": {"type": "rule", "color": "#666", "strokeWidth": 1},
 "encoding": {"x": {"datum": {"year": 2019, "month": 4, "date": 3, "hours": 0}}, "x2": {"datum": {"year": 2019, "month": 4, "date": 26, "hours": 11, "minutes": 6}}, "y": {"datum": 25}}},
{"data": {"values": [{}]}, "mark": {"type": "rule", "color": "#666", "strokeWidth": 1},
 "encoding": {"x": {"datum": {"year": 2019, "month": 4, "date": 26, "hours": 11, "minutes": 6}}, "x2": {"datum": {"year": 2019, "month": 4, "date": 30, "hours": 2}}, "y": {"datum": 435}}},
{"data": {"values": [{}]}, "mark": {"type": "point", "shape": "M-0.44,-1H0.44V1H-0.44Z", "size": 256, "filled": true, "fill": "#e6e6e6", "stroke": "#777", "strokeWidth": 1, "opacity": 1},
 "encoding": {"x": {"datum": {"year": 2019, "month": 4, "date": 3, "hours": 0}}, "y": {"datum": 133}}},
{"data": {"values": [{}]}, "mark": {"type": "point", "shape": "M-0.44,-1H0.44V1H-0.44Z", "size": 256, "filled": true, "fill": "#e6e6e6", "stroke": "#777", "strokeWidth": 1, "opacity": 1},
 "encoding": {"x": {"datum": {"year": 2019, "month": 4, "date": 26, "hours": 11, "minutes": 6}}, "y": {"datum": 133}}}
]
}
]
}
